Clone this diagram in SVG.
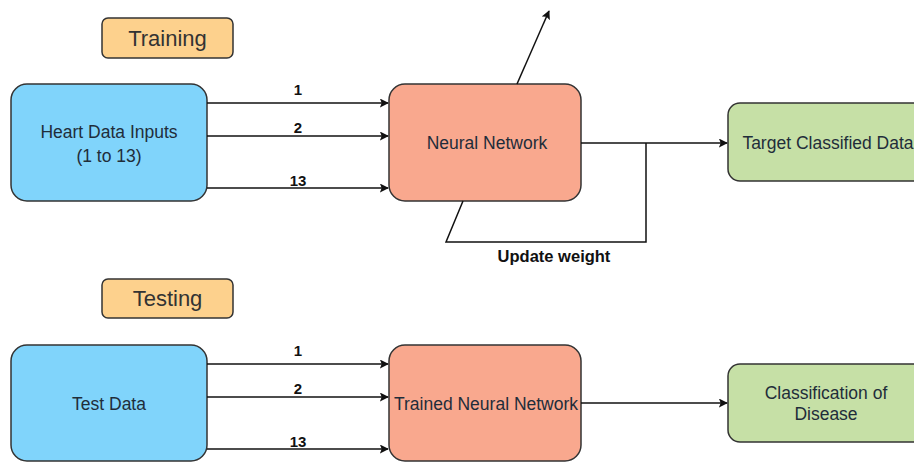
<svg xmlns="http://www.w3.org/2000/svg" width="914" height="462" viewBox="0 0 914 462">
<defs>
<style>
.t{font-family:"Liberation Sans",Arial,sans-serif;font-size:17.5px;fill:#1f2d3a;text-anchor:middle}
.lbl{font-family:"Liberation Sans",Arial,sans-serif;font-size:22px;fill:#333;text-anchor:middle}
.num{font-family:"Liberation Sans",Arial,sans-serif;font-size:15px;font-weight:bold;fill:#111;text-anchor:middle}
.box{stroke:#333;stroke-width:1.5}
.blue{fill:#80d4fb}
.red{fill:#f9a88e}
.green{fill:#c6e0a6}
.orange{fill:#fdd18d}
.c{stroke:#111;stroke-width:1.5;fill:none}
</style>
<marker id="ah" viewBox="0 0 10 10" refX="9" refY="5" markerWidth="9" markerHeight="9" markerUnits="userSpaceOnUse" orient="auto">
<path d="M0,0 L10,5 L0,10 L2,5 Z" fill="#111"/>
</marker>
</defs>
<rect width="914" height="462" fill="#fff"/>
<g id="training-label">
<rect class="box orange" x="102" y="18" width="131" height="40" rx="6"/>
<text class="lbl" x="167.5" y="46">Training</text>
</g>
<g id="heart-data">
<rect class="box blue" x="11" y="84" width="196" height="117" rx="16"/>
<text class="t" x="109" y="138">Heart Data Inputs</text>
<text class="t" x="109" y="162">(1 to 13)</text>
</g>
<g id="neural-network">
<rect class="box red" x="389" y="84" width="192" height="117" rx="16"/>
<text class="t" x="487" y="149">Neural Network</text>
</g>
<g id="target">
<rect class="box green" x="728" y="103" width="200" height="78" rx="12"/>
<text class="t" x="828" y="149">Target Classified Data</text>
</g>
<g id="testing-label">
<rect class="box orange" x="102" y="279" width="131" height="39" rx="6"/>
<text class="lbl" x="167.5" y="306">Testing</text>
</g>
<g id="test-data">
<rect class="box blue" x="11" y="345" width="196" height="116" rx="16"/>
<text class="t" x="109" y="410">Test Data</text>
</g>
<g id="trained-nn">
<rect class="box red" x="389" y="345" width="192" height="116" rx="16"/>
<text class="t" x="486" y="410">Trained Neural Network</text>
</g>
<g id="classification">
<rect class="box green" x="728" y="364" width="200" height="78" rx="12"/>
<text class="t" x="826" y="399">Classification of</text>
<text class="t" x="826" y="420">Disease</text>
</g>
<g id="connectors">
<line class="c" x1="207" y1="103" x2="388" y2="103" marker-end="url(#ah)"/>
<line class="c" x1="207" y1="136" x2="388" y2="136" marker-end="url(#ah)"/>
<line class="c" x1="207" y1="188" x2="388" y2="188" marker-end="url(#ah)"/>
<text class="num" x="298" y="95">1</text>
<text class="num" x="298" y="133">2</text>
<text class="num" x="298" y="186">13</text>
<line class="c" x1="517" y1="84" x2="549" y2="11" marker-end="url(#ah)"/>
<line class="c" x1="581" y1="143" x2="727" y2="143" marker-end="url(#ah)"/>
<polyline class="c" points="646,143 646,242 446,242 463,201"/>
<text class="num" x="554" y="262" style="font-size:16.5px">Update weight</text>
<line class="c" x1="207" y1="364" x2="388" y2="364" marker-end="url(#ah)"/>
<line class="c" x1="207" y1="397" x2="388" y2="397" marker-end="url(#ah)"/>
<line class="c" x1="207" y1="449" x2="388" y2="449" marker-end="url(#ah)"/>
<text class="num" x="298" y="356">1</text>
<text class="num" x="298" y="394">2</text>
<text class="num" x="298" y="447">13</text>
<line class="c" x1="581" y1="403" x2="727" y2="403" marker-end="url(#ah)"/>
</g>
</svg>
